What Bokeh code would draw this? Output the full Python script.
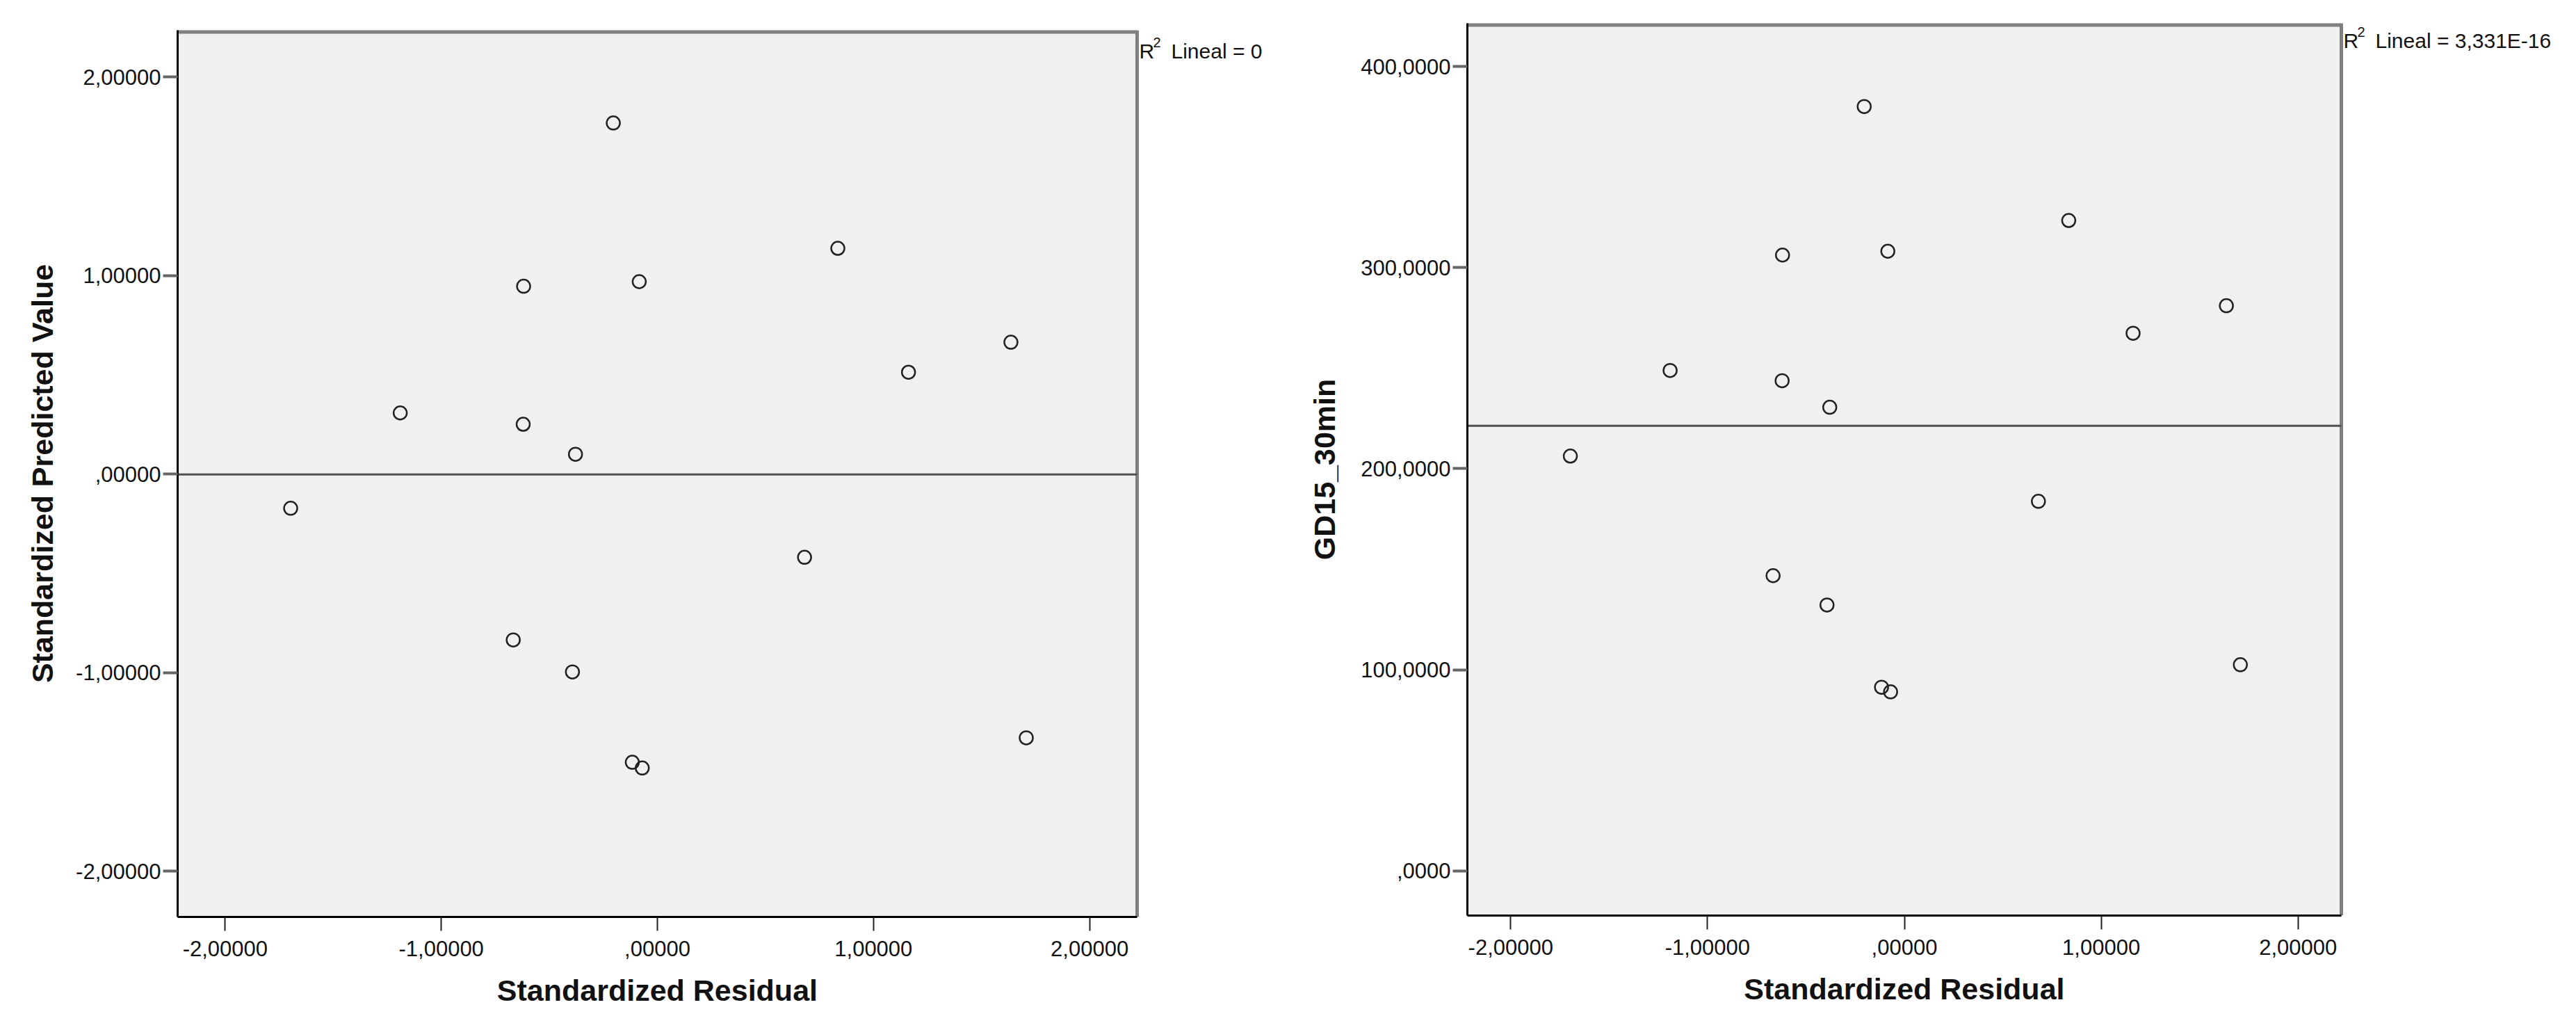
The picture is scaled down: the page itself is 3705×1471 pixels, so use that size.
from bokeh.plotting import figure
from bokeh.models import Range1d, FixedTicker, Label, BoxAnnotation, Title, Spacer
from bokeh.layouts import row, column
from bokeh.embed import file_html
from bokeh.resources import INLINE
import numpy as np

# ---- data ----
std_residual = [-0.204, 0.835, -0.619, -0.084, 1.636, 1.162, -1.190, -0.621,
                -0.379, -1.697, 0.681, -0.667, -0.393, 1.707, -0.116, -0.070]
std_predicted = [1.768, 1.137, 0.946, 0.969, 0.664, 0.513, 0.308, 0.251,
                 0.100, -0.172, -0.419, -0.835, -0.996, -1.328, -1.451, -1.480]
gd15_30min = [380.2, 323.5, 306.3, 308.2, 281.1, 267.4, 248.9, 243.8,
              230.6, 206.3, 183.8, 146.8, 132.2, 102.5, 91.3, 89.0]

x_ticks = [-2, -1, 0, 1, 2]
x_tick_labels = ["-2,00000", "-1,00000", ",00000", "1,00000", "2,00000"]
left_y_ticks = [-2, -1, 0, 1, 2]
left_y_tick_labels = ["-2,00000", "-1,00000", ",00000", "1,00000", "2,00000"]
right_y_ticks = [0, 100, 200, 300, 400]
right_y_tick_labels = [",0000", "100,0000", "200,0000", "300,0000", "400,0000"]

x_label = "Standardized Residual"
left_y_label = "Standardized Predicted Value"
right_y_label = "GD15_30min"
left_r2 = "0"
right_r2 = "3,331E-16"

FONT = "Liberation Sans"
X_LO, X_HI = -2.22, 2.22
XLABEL_W = 461  # approx. rendered width of the bold x-axis title


def make_plot(y, y_lo, y_hi, yticks, ylabels, ylabel, r2text, width, height,
              bl, br, bt, bb, box_px, ylabel_standoff, r2_dy):
    frame_px = width - bl - br
    x_end = X_LO + (X_HI - X_LO) * frame_px / box_px
    p = figure(width=width, height=height, output_backend="svg",
               toolbar_location=None, tools="",
               x_range=Range1d(X_LO, x_end), y_range=Range1d(y_lo, y_hi),
               min_border_left=bl, min_border_right=br,
               min_border_top=bt, min_border_bottom=bb)
    p.background_fill_color = "white"
    p.border_fill_color = "white"
    p.outline_line_color = None
    p.xgrid.visible = False
    p.ygrid.visible = False

    # plot area (grey box) limited to the data range
    p.add_layout(BoxAnnotation(left=X_LO, right=X_HI, fill_color="#F0F0F0",
                               fill_alpha=1.0, line_color=None,
                               level="underlay"))

    # x axis
    xa = p.xaxis[0]
    xa.bounds = (X_LO, X_HI)
    xa.ticker = FixedTicker(ticks=x_ticks)
    xa.major_label_overrides = {t: l for t, l in zip(x_ticks, x_tick_labels)}
    xa.minor_tick_line_color = None
    xa.major_tick_in = 0
    xa.major_tick_out = 20
    xa.major_tick_line_width = 2
    xa.major_tick_line_color = "#222222"
    xa.axis_line_color = "black"
    xa.axis_line_width = 3
    xa.major_label_text_font = FONT
    xa.major_label_text_font_size = "31px"
    xa.major_label_text_color = "#111111"
    xa.major_label_standoff = 14

    # x axis title, centred under the grey box
    box_center = bl + box_px / 2.0
    frame_right = width - br
    p.add_layout(Title(text=x_label, align="right",
                       offset=frame_right - box_center - XLABEL_W / 2.0,
                       standoff=40, text_font=FONT, text_font_size="43px",
                       text_font_style="bold", text_color="#111111"),
                 "below")

    # y axis
    ya = p.yaxis[0]
    ya.ticker = FixedTicker(ticks=yticks)
    ya.major_label_overrides = {t: l for t, l in zip(yticks, ylabels)}
    ya.minor_tick_line_color = None
    ya.major_tick_in = 0
    ya.major_tick_out = 21
    ya.major_tick_line_width = 4
    ya.major_tick_line_color = "#666666"
    ya.axis_line_color = "black"
    ya.axis_line_width = 3
    ya.major_label_text_font = FONT
    ya.major_label_text_font_size = "31px"
    ya.major_label_text_color = "#111111"
    ya.major_label_standoff = 3
    ya.axis_label = ylabel
    ya.axis_label_text_font = FONT
    ya.axis_label_text_font_size = "43px"
    ya.axis_label_text_font_style = "bold"
    ya.axis_label_text_color = "#111111"
    ya.axis_label_standoff = ylabel_standoff

    # grey top and right edges of the plot area
    p.segment(x0=[X_LO], y0=[y_hi], x1=[X_HI], y1=[y_hi],
              line_color="#808080", line_width=10)
    p.segment(x0=[X_HI], y0=[y_lo], x1=[X_HI], y1=[y_hi],
              line_color="#808080", line_width=5)

    # fit line (R^2 ~ 0 -> horizontal at the mean)
    m = float(np.mean(y))
    p.segment(x0=[X_LO], y0=[m], x1=[X_HI], y1=[m],
              line_color="#505050", line_width=3)

    p.scatter(std_residual, y, marker="circle", size=19, fill_color=None,
              line_color="#222222", line_width=2.5)

    p.add_layout(Label(x=X_HI, y=y_hi, x_offset=3, y_offset=-r2_dy, text="R",
                       text_font=FONT, text_font_size="30px",
                       text_baseline="alphabetic", text_align="left",
                       text_color="#111111"))
    p.add_layout(Label(x=X_HI, y=y_hi, x_offset=23, y_offset=-(r2_dy - 13),
                       text="2", text_font=FONT, text_font_size="20px",
                       text_baseline="alphabetic", text_align="left",
                       text_color="#111111"))
    p.add_layout(Label(x=X_HI, y=y_hi, x_offset=49, y_offset=-r2_dy,
                       text="Lineal = " + r2text,
                       text_font=FONT, text_font_size="30px",
                       text_baseline="alphabetic", text_align="left",
                       text_color="#111111"))
    return p


p1 = make_plot(std_predicted, -2.23, 2.235, left_y_ticks,
               left_y_tick_labels, left_y_label, left_r2,
               width=1850, height=1457, bl=255, br=5, bt=33, bb=148,
               box_px=1380, ylabel_standoff=21, r2_dy=30)
p2 = make_plot(gd15_30min, -22.3, 421.6, right_y_ticks,
               right_y_tick_labels, right_y_label, right_r2,
               width=1850, height=1465, bl=260, br=5, bt=33, bb=148,
               box_px=1257, ylabel_standoff=25, r2_dy=25)

layout = row(column(Spacer(width=1850, height=10), p1), p2)
open("out.html", "w").write(file_html(layout, INLINE))
